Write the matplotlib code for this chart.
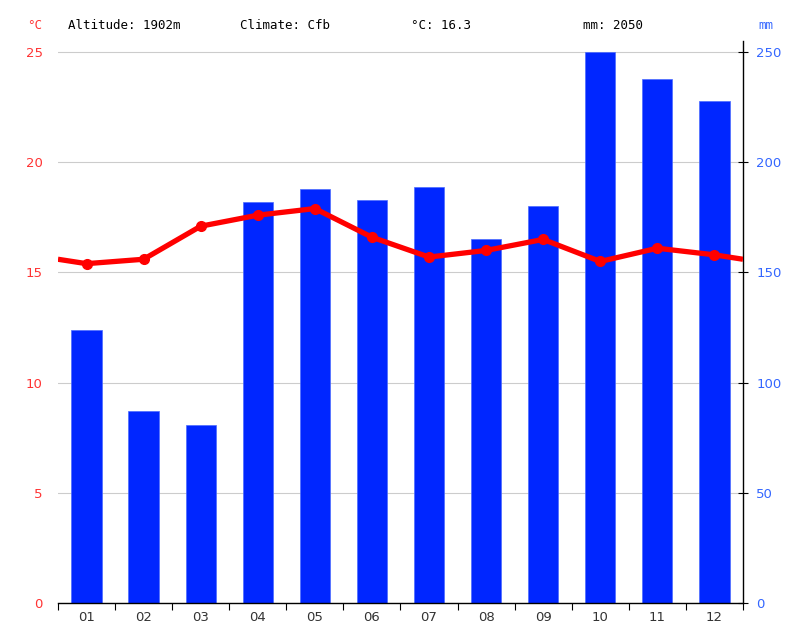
import matplotlib
matplotlib.use("Agg")
import matplotlib.pyplot as plt
import numpy as np

months = ['01', '02', '03', '04', '05', '06', '07', '08', '09', '10', '11', '12']
precip_mm = [124, 87, 81, 182, 188, 183, 189, 165, 180, 250, 238, 228]
temp_c = [15.4, 15.6, 17.1, 17.6, 17.9, 16.6, 15.7, 16.0, 16.5, 15.5, 16.1, 15.8]
edge_temp = 15.6  # where the line meets the plot edges
temp_ticks = [0, 5, 10, 15, 20, 25]
mm_ticks = [0, 50, 100, 150, 200, 250]

fig = plt.figure(figsize=(8.04, 6.42), dpi=100)
ax = fig.add_axes([0.0721, 0.0607, 0.852, 0.8753])
ax2 = ax.twinx()

x = np.arange(len(months))

# precipitation bars on the right axis
ax2.bar(x, precip_mm, width=0.53, color='#0026ff', edgecolor='#4a6aff', linewidth=0.5, zorder=2)
ax2.set_ylim(0, 255)
ax2.set_yticks(mm_ticks)
ax2.grid(axis='y', color='#cccccc', linewidth=0.8, zorder=0)
ax2.set_axisbelow(True)
ax2.tick_params(axis='y', colors='black', direction='inout', length=7, width=0.8, labelsize=9.5, pad=6)
ax2.tick_params(axis='y', labelcolor='#3366ff')

# temperature line on the left axis, drawn above the bars
ax.set_zorder(ax2.get_zorder() + 1)
ax.patch.set_visible(False)
xl = np.concatenate([[-0.5], x, [11.5]])
yl = np.concatenate([[edge_temp], temp_c, [edge_temp]])
ax.plot(xl, yl, color='#ff0000', linewidth=3.8, solid_capstyle='butt', zorder=3)
ax.plot(x, temp_c, 'o', color='#ff0000', markersize=7, zorder=4)
ax.set_ylim(0, 25.5)
ax.set_yticks(temp_ticks)
ax.tick_params(axis='y', length=0, labelcolor='#ff3333', labelsize=9.5, pad=11)
ax.set_xlim(-0.5, 11.5)
ax.set_xticks(x)
ax.set_xticklabels(months)
ax.set_xticks(np.arange(-0.5, 12, 1), minor=True)
ax.tick_params(axis='x', which='major', length=0, labelcolor='#333333', labelsize=9.5, pad=6)
ax.tick_params(axis='x', which='minor', length=5, width=0.8, color='black')
ax2.set_xlim(-0.5, 11.5)

for a in (ax, ax2):
    a.spines['top'].set_visible(False)
    a.spines['left'].set_visible(False)
ax.spines['right'].set_visible(False)
ax2.spines['bottom'].set_visible(False)
ax.spines['bottom'].set_linewidth(1.0)
ax2.spines['right'].set_linewidth(1.0)

mono = 'DejaVu Sans Mono'
fig.text(0.0435, 0.961, '°C', color='#ff3333', fontsize=9, family=mono, ha='center', va='center')
fig.text(0.952, 0.961, 'mm', color='#3366ff', fontsize=9, family=mono, ha='center', va='center')
fig.text(0.0846, 0.961, 'Altitude: 1902m', fontsize=9, family=mono, va='center')
fig.text(0.2985, 0.961, 'Climate: Cfb', fontsize=9, family=mono, va='center')
fig.text(0.511, 0.961, '°C: 16.3', fontsize=9, family=mono, va='center')
fig.text(0.725, 0.961, 'mm: 2050', fontsize=9, family=mono, va='center')

fig.savefig('out.png', dpi=100)
